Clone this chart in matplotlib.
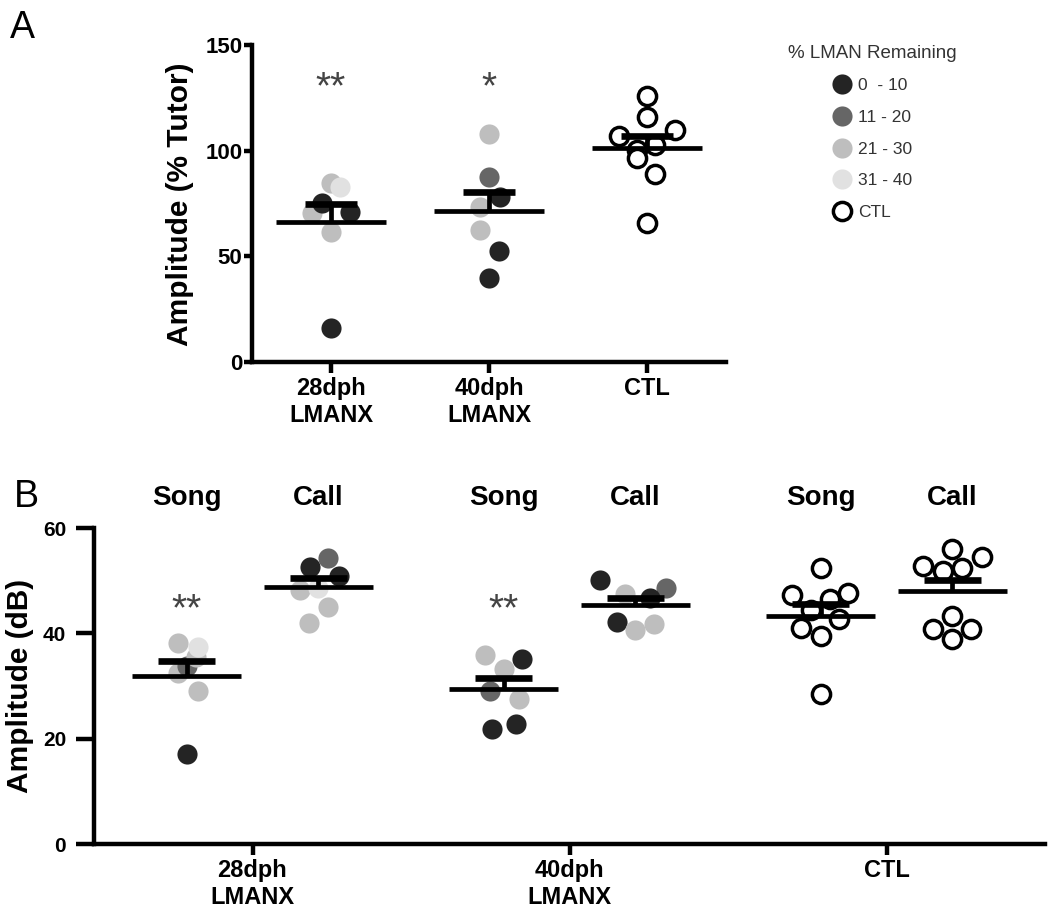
import numpy as np
import matplotlib
matplotlib.use("Agg")
import matplotlib.pyplot as plt
from matplotlib.lines import Line2D

# Fonts: Liberation Sans is the Arial look-alike used by the original figure.
plt.rcParams["font.family"] = ["Liberation Sans", "DejaVu Sans"]

# ---- Panel A: song amplitude as % of tutor ----
A_GROUPS = ["28dph\nLMANX", "40dph\nLMANX", "CTL"]
A_28_VALUES = [16.0, 61.7, 70.4, 71.2, 75.3, 84.6, 83.0]
A_28_BINS = [0, 2, 2, 0, 0, 2, 3]
A_40_VALUES = [107.8, 87.6, 78.2, 73.4, 62.4, 52.6, 39.8]
A_40_BINS = [2, 1, 0, 2, 2, 0, 0]
A_CTL_VALUES = [125.8, 115.7, 109.7, 106.9, 102.6, 100.3, 96.3, 88.9, 65.8]
A_CTL_BINS = [4, 4, 4, 4, 4, 4, 4, 4, 4]
A_STARS = ["**", "*", ""]

# ---- Panel B: song and call amplitude in dB ----
B_GROUPS = ["28dph\nLMANX", "40dph\nLMANX", "CTL"]
B_SUBGROUPS = ["Song", "Call"]
B_28_SONG = [17.1, 29.0, 32.5, 33.8, 35.6, 37.4, 38.2]
B_28_SONG_BINS = [0, 2, 2, 1, 2, 3, 2]
B_28_CALL = [54.3, 52.6, 50.9, 48.2, 48.6, 45.0, 42.0]
B_28_CALL_BINS = [1, 0, 0, 2, 3, 2, 2]
B_40_SONG = [35.8, 35.2, 33.2, 29.1, 27.6, 22.7, 21.9]
B_40_SONG_BINS = [2, 0, 2, 1, 2, 0, 0]
B_40_CALL = [50.2, 47.4, 48.6, 46.7, 42.1, 40.6, 41.7]
B_40_CALL_BINS = [0, 2, 1, 0, 0, 2, 2]
B_CTL_SONG = [52.4, 47.3, 47.7, 46.6, 44.5, 42.8, 41.1, 39.4, 28.4]
B_CTL_SONG_BINS = [4, 4, 4, 4, 4, 4, 4, 4, 4]
B_CTL_CALL = [56.0, 54.5, 52.7, 51.9, 52.4, 43.3, 40.9, 40.9, 39.0]
B_CTL_CALL_BINS = [4, 4, 4, 4, 4, 4, 4, 4, 4]
B_STARS = ["**", "", "**", "", "", ""]

# Legend bins for % LMAN remaining
BIN_LABELS = ["0  - 10", "11 - 20", "21 - 30", "31 - 40", "CTL"]

# ---- Layout / style (not data) ----
BIN_COLORS = ["#242424", "#666666", "#bebebe", "#e1e1e1", "white"]
# horizontal spread of the dots inside each column (scatter layout)
A_28_JITTER = [0, 0, -0.12, 0.12, -0.06, 0, 0.057]
A_40_JITTER = [0, 0, 0.068, -0.059, -0.059, 0.061, 0]
A_CTL_JITTER = [0, 0, 0.179, -0.179, 0.053, -0.063, -0.063, 0.053, 0]
B_28_SONG_JITTER = [0, 0.036, -0.027, 0.0, 0.03, 0.036, -0.027]
B_28_CALL_JITTER = [0.029, -0.027, 0.065, -0.057, 0, 0.031, -0.03]
B_40_SONG_JITTER = [-0.059, 0.059, 0, -0.043, 0.049, 0.038, -0.036]
B_40_CALL_JITTER = [-0.113, -0.034, 0.096, 0.046, -0.059, 0, 0.06]
B_CTL_SONG_JITTER = [0, -0.089, 0.088, 0.031, -0.03, 0.057, -0.063, 0, 0]
B_CTL_CALL_JITTER = [0, 0.092, -0.093, -0.029, 0.03, 0, -0.061, 0.06, 0]
B_OFFSET = 0.208
LW = 3.2
MS = 14.5


def draw_column(ax, x, values, bins, jitter, half, cap):
    # This draws one column of dots plus its mean line and upper SEM bar.
    for v, b, j in zip(values, bins, jitter):
        if b == 4:
            ax.plot(x + j, v, "o", ms=MS - 1.4, mfc="white", mec="black",
                    mew=2.5, zorder=3)
        else:
            ax.plot(x + j, v, "o", ms=MS, mfc=BIN_COLORS[b],
                    mec=BIN_COLORS[b], mew=0, zorder=3)
    vals = np.asarray(values)
    mean = vals.mean()
    sem = vals.std(ddof=1) / np.sqrt(len(vals))
    ax.plot([x - half, x + half], [mean, mean], color="black", lw=3.4,
            solid_capstyle="butt", zorder=5)
    ax.plot([x, x], [mean, mean + sem], color="black", lw=3.4,
            solid_capstyle="butt", zorder=5)
    ax.plot([x - cap, x + cap], [mean + sem, mean + sem], color="black",
            lw=4.8, solid_capstyle="butt", zorder=5)


def style_axes(ax, ylen, ypad, ysize):
    for side in ["top", "right"]:
        ax.spines[side].set_visible(False)
    for side in ["left", "bottom"]:
        ax.spines[side].set_linewidth(LW)
    ax.tick_params(axis="y", length=ylen, width=LW, pad=ypad, labelsize=ysize)
    ax.tick_params(axis="x", length=8, width=LW, pad=3, labelsize=17)
    for lab in ax.get_xticklabels() + ax.get_yticklabels():
        lab.set_fontweight("bold")


def main():
    fig = plt.figure(figsize=(10.5, 9.08), dpi=100)

    # ---------------- Panel A ----------------
    ax_a = fig.add_axes([252 / 1050, 1 - 362 / 908, 474 / 1050, 317 / 908])
    cols_a = [(A_28_VALUES, A_28_BINS, A_28_JITTER),
              (A_40_VALUES, A_40_BINS, A_40_JITTER),
              (A_CTL_VALUES, A_CTL_BINS, A_CTL_JITTER)]
    for i, (vals, bins, jit) in enumerate(cols_a):
        draw_column(ax_a, i, vals, bins, jit, half=0.345, cap=0.165)
        if A_STARS[i]:
            ax_a.text(i, 125, A_STARS[i], ha="center", va="baseline",
                      fontsize=28, color="#444444")
    ax_a.set_xlim(-0.5, 2.5)
    ax_a.set_ylim(0, 150)
    ax_a.set_yticks([0, 50, 100, 150])
    ax_a.set_xticks(range(len(A_GROUPS)))
    ax_a.set_xticklabels(A_GROUPS)
    style_axes(ax_a, ylen=6, ypad=1, ysize=16)
    fig.text(180 / 1050, 1 - 204 / 908, "Amplitude (% Tutor)", rotation=90,
             ha="center", va="center", fontsize=21.5, fontweight="bold")
    fig.text(10 / 1050, 1 - 38 / 908, "A", fontsize=27, va="baseline")

    # legend for % LMAN remaining
    handles = []
    for b in range(len(BIN_LABELS)):
        if b == 4:
            handles.append(Line2D([], [], ls="none", marker="o", ms=MS - 1.4,
                                  mfc="white", mec="black", mew=2.5))
        else:
            handles.append(Line2D([], [], ls="none", marker="o", ms=MS,
                                  mfc=BIN_COLORS[b], mec=BIN_COLORS[b], mew=0))
    leg = fig.legend(handles, BIN_LABELS, title="% LMAN Remaining",
                     loc="upper center", bbox_to_anchor=(872 / 1050, 1 - 36 / 908),
                     frameon=False, fontsize=12.5, title_fontsize=13.5,
                     labelspacing=0.95, handletextpad=0.35, handlelength=1.2,
                     borderpad=0)
    leg.get_title().set_color("#333333")
    for t in leg.get_texts():
        t.set_color("#333333")

    # ---------------- Panel B ----------------
    ax_b = fig.add_axes([94 / 1050, 1 - 844 / 908, 951 / 1050, 316 / 908])
    cols_b = [(B_28_SONG, B_28_SONG_BINS, B_28_SONG_JITTER),
              (B_28_CALL, B_28_CALL_BINS, B_28_CALL_JITTER),
              (B_40_SONG, B_40_SONG_BINS, B_40_SONG_JITTER),
              (B_40_CALL, B_40_CALL_BINS, B_40_CALL_JITTER),
              (B_CTL_SONG, B_CTL_SONG_BINS, B_CTL_SONG_JITTER),
              (B_CTL_CALL, B_CTL_CALL_BINS, B_CTL_CALL_JITTER)]
    for k, (vals, bins, jit) in enumerate(cols_b):
        g, s = divmod(k, 2)
        x = g + (B_OFFSET if s else -B_OFFSET)
        draw_column(ax_b, x, vals, bins, jit, half=0.172, cap=0.09)
        ax_b.text(x, 64.4, B_SUBGROUPS[s], ha="center", va="baseline",
                  fontsize=20, fontweight="bold", clip_on=False)
        if B_STARS[k]:
            ax_b.text(x, 42.5, B_STARS[k], ha="center", va="baseline",
                      fontsize=28, color="#444444")
    ax_b.set_xlim(-0.5, 2.5)
    ax_b.set_ylim(0, 60)
    ax_b.set_yticks([0, 20, 40, 60])
    ax_b.set_xticks(range(len(B_GROUPS)))
    ax_b.set_xticklabels(B_GROUPS)
    style_axes(ax_b, ylen=13, ypad=7, ysize=15)
    fig.text(20 / 1050, 1 - 686 / 908, "Amplitude (dB)", rotation=90,
             ha="center", va="center", fontsize=21.5, fontweight="bold")
    fig.text(14 / 1050, 1 - 507 / 908, "B", fontsize=27, va="baseline")

    fig.savefig("out.png", dpi=100)
    plt.close(fig)


if __name__ == "__main__":
    main()
